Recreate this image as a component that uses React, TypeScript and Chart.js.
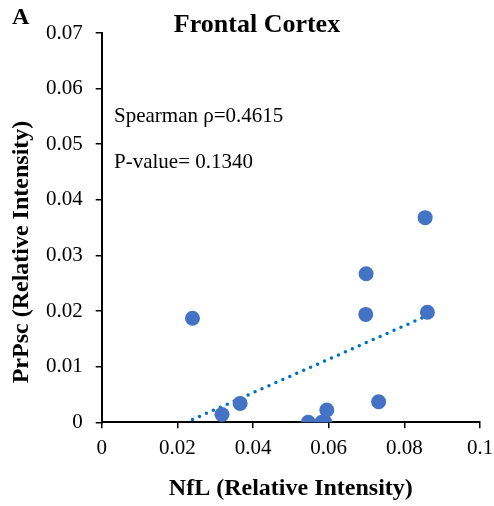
import React, { useEffect, useRef } from "react";
import { Chart, registerables } from "chart.js";

Chart.register(...registerables);

const chartTitle = "Frontal Cortex";
const panelLabel = "A";
const xAxisTitle = "NfL (Relative Intensity)";
const yAxisTitle = "PrPsc (Relative Intensity)";
const annotationLines = ["Spearman \u03c1=0.4615", "P-value= 0.1340"];

const nflValues = [0.024, 0.0318, 0.0366, 0.0546, 0.0582, 0.059, 0.0595, 0.0699, 0.0698, 0.0732, 0.0855, 0.0861];
const prpscValues = [0.0187, 0.0014, 0.0034, 0.0, 0.0, 0.0, 0.0022, 0.0267, 0.0194, 0.0037, 0.0368, 0.0198];

const trendX = [0.024, 0.0861];
const trendY = [0.0005, 0.0192];

const xTicks = [0, 0.02, 0.04, 0.06, 0.08, 0.1];
const xTickLabels = ["0", "0.02", "0.04", "0.06", "0.08", "0.1"];
const yTicks = [0, 0.01, 0.02, 0.03, 0.04, 0.05, 0.06, 0.07];
const yTickLabels = ["0", "0.01", "0.02", "0.03", "0.04", "0.05", "0.06", "0.07"];

const FONT = "'Liberation Serif', 'Times New Roman', serif";

export default function App() {
  const ref = useRef<HTMLCanvasElement | null>(null);

  useEffect(() => {
    if (!ref.current) return;

    const textPlugin = {
      id: "extraText",
      afterDraw(chart: any) {
        const ctx = chart.ctx;
        ctx.save();
        ctx.fillStyle = "#000";
        ctx.textBaseline = "alphabetic";
        ctx.font = `bold 26px ${FONT}`;
        ctx.textAlign = "center";
        ctx.fillText(chartTitle, 257, 32);
        ctx.font = `bold 24px ${FONT}`;
        ctx.textAlign = "left";
        ctx.fillText(panelLabel, 12, 24);
        ctx.font = `21px ${FONT}`;
        ctx.fillText(annotationLines[0], 114, 122);
        ctx.fillText(annotationLines[1], 114, 168);
        // y axis title
        ctx.translate(22, 252);
        ctx.rotate(-Math.PI / 2);
        ctx.font = `bold 24px ${FONT}`;
        ctx.textAlign = "center";
        ctx.textBaseline = "middle";
        ctx.fillText(yAxisTitle, 0, 0);
        ctx.restore();
      },
    };

    const chart = new Chart(ref.current, {
      type: "scatter",
      data: {
        datasets: [
          {
            label: "Trend",
            type: "line",
            data: trendX.map((x, i) => ({ x, y: trendY[i] })),
            borderColor: "#0070C0",
            borderWidth: 3.5,
            borderDash: [0, 7.6],
            borderCapStyle: "round",
            pointRadius: 0,
            fill: false,
            order: 2,
          },
          {
            label: "Samples",
            data: nflValues.map((x, i) => ({ x, y: prpscValues[i] })),
            backgroundColor: "#4472C4",
            borderColor: "#4472C4",
            borderWidth: 0,
            pointRadius: 7.5,
            order: 1,
          },
        ] as any,
      },
      options: {
        animation: false,
        responsive: false,
        maintainAspectRatio: false,
        layout: { padding: { left: 0, right: 14, top: 33, bottom: 0 } },
        plugins: {
          legend: { display: false },
          tooltip: { enabled: false },
          title: { display: false },
        },
        scales: {
          x: {
            type: "linear",
            min: 0,
            max: 0.1,
            afterBuildTicks: (scale: any) => {
              scale.ticks = xTicks.map((v) => ({ value: v }));
            },
            afterFit: (scale: any) => {
              scale.height = 506 - 422.3;
              scale.paddingLeft = 0;
              scale.paddingRight = 0;
            },
            border: { display: true, color: "#000", width: 2 },
            grid: { display: true, drawOnChartArea: false, drawTicks: true, tickLength: 6, color: "#000", lineWidth: 1.5 },
            ticks: {
              color: "#000",
              font: { family: FONT, size: 21 },
              padding: 8,
              maxRotation: 0,
              autoSkip: false,
              callback: (v: any) => {
                const i = xTicks.findIndex((t) => Math.abs(t - Number(v)) < 1e-9);
                return i >= 0 ? xTickLabels[i] : "";
              },
            },
            title: {
              display: true,
              text: xAxisTitle,
              color: "#000",
              font: { family: FONT, size: 24, weight: "bold" },
              padding: { top: 0, bottom: 3 },
            },
          },
          y: {
            type: "linear",
            min: 0,
            max: 0.07,
            afterBuildTicks: (scale: any) => {
              scale.ticks = yTicks.map((v) => ({ value: v }));
            },
            afterFit: (scale: any) => {
              scale.width = 101.7;
              scale.paddingTop = 0;
              scale.paddingBottom = 0;
            },
            border: { display: true, color: "#000", width: 2 },
            grid: { display: true, drawOnChartArea: false, drawTicks: true, tickLength: 6, color: "#000", lineWidth: 1.5 },
            ticks: {
              color: "#000",
              font: { family: FONT, size: 21 },
              padding: 13,
              autoSkip: false,
              callback: (v: any) => {
                const i = yTicks.findIndex((t) => Math.abs(t - Number(v)) < 1e-9);
                return i >= 0 ? yTickLabels[i] : "";
              },
            },
            title: { display: false },
          },
        },
      } as any,
      plugins: [textPlugin],
    });

    return () => chart.destroy();
  }, []);

  return (
    <div style={{ position: "fixed", left: 0, top: 0, width: 494, height: 506, background: "#fff" }}>
      <canvas ref={ref} width={494} height={506} style={{ width: 494, height: 506, display: "block" }} />
    </div>
  );
}
